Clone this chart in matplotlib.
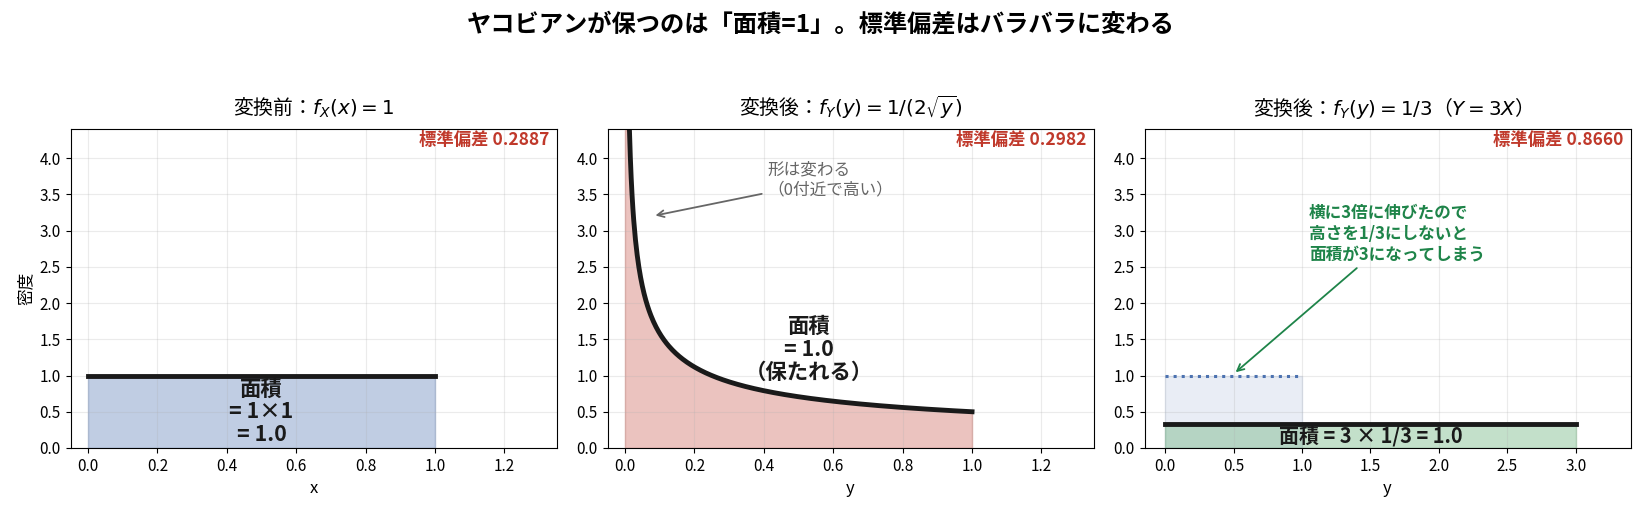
import numpy as np
import matplotlib
matplotlib.use('Agg')
import matplotlib.pyplot as plt

plt.rcParams['font.family'] = ['Noto Sans CJK JP', 'DejaVu Sans']
plt.rcParams['axes.unicode_minus'] = False
plt.rcParams['xtick.labelsize'] = 11
plt.rcParams['ytick.labelsize'] = 11

# data
x_range = [0.0, 1.0]          # X ~ U(0,1)
fx_height = 1.0
y_sqrt_range = [0.013, 1.0]   # Y = X^2 density support drawn
y3_range = [0.0, 3.0]         # Y = 3X
fy3_height = 1 / 3
std_values = [0.2887, 0.2982, 0.8660]
titles = [
    '変換前：$f_X(x) = 1$',
    '変換後：$f_Y(y) = 1/(2\\sqrt{y})$',
    '変換後：$f_Y(y) = 1/3$（$Y = 3X$）',
]
xlabels = ['x', 'y', 'y']

BLUE = '#4c72b0'
RED = '#c0392b'
GREEN = '#55a868'
DARKGREEN = '#1e8449'
INK = '#1a1a1a'

fig, axes = plt.subplots(1, 3, figsize=(16.42, 5.12), dpi=100)
fig.subplots_adjust(left=0.043, right=0.993, bottom=0.125, top=0.748, wspace=0.105)
fig.suptitle('ヤコビアンが保つのは「面積=1」。標準偏差はバラバラに変わる',
             fontsize=17.5, fontweight='bold', y=0.975)

# panel 1
ax = axes[0]
ax.fill_between(x_range, [fx_height, fx_height], color=BLUE, alpha=0.35)
ax.plot(x_range, [fx_height, fx_height], color=INK, lw=3.5)
ax.text(0.5, 0.5, '面積\n= 1×1\n= 1.0', ha='center', va='center',
        fontsize=15.4, fontweight='bold', color=INK, linespacing=1.1)
ax.set_xlim(-0.05, 1.35)
ax.set_ylabel('密度', fontsize=12)

# panel 2
ax = axes[1]
ys = np.linspace(y_sqrt_range[0], y_sqrt_range[1], 400)
fy = 1 / (2 * np.sqrt(ys))
ax.fill_between(np.concatenate([[0.0], ys]), np.concatenate([[fy[0]], fy]),
                color=RED, alpha=0.3)
ax.plot(ys, fy, color=INK, lw=3.5)
ax.text(0.53, 1.36, '面積\n= 1.0\n（保たれる）', ha='center', va='center',
        fontsize=15.4, fontweight='bold', color=INK, linespacing=1.1)
ax.annotate('形は変わる\n（0付近で高い）', xy=(0.08, 3.2), xytext=(0.41, 3.5),
            fontsize=12, color='#666666',
            arrowprops=dict(arrowstyle='->', color='#666666', lw=1.3))
ax.set_xlim(-0.05, 1.35)

# panel 3
ax = axes[2]
ax.fill_between(x_range, [fx_height, fx_height], color=BLUE, alpha=0.12)
ax.plot(x_range, [fx_height, fx_height], color=BLUE, lw=2.2, ls=':')
ax.fill_between(y3_range, [fy3_height, fy3_height], color=GREEN, alpha=0.35)
ax.plot(y3_range, [fy3_height, fy3_height], color=INK, lw=3.5)
ax.text(1.5, 0.17, '面積 = 3 × 1/3 = 1.0', ha='center', va='center',
        fontsize=14.4, fontweight='bold', color=INK)
ax.annotate('横に3倍に伸びたので\n高さを1/3にしないと\n面積が3になってしまう',
            xy=(0.5, 1.02), xytext=(1.05, 2.6),
            fontsize=12, fontweight='bold', color=DARKGREEN,
            arrowprops=dict(arrowstyle='->', color=DARKGREEN, lw=1.3))
ax.set_xlim(-0.15, 3.4)

for ax, t, xl, sd in zip(axes, titles, xlabels, std_values):
    ax.set_ylim(0, 4.4)
    ax.set_title(t, fontsize=14.3, pad=10)
    ax.set_xlabel(xl, fontsize=12)
    ax.grid(True, alpha=0.25)
    ax.text(0.985, 0.995, f'標準偏差 {sd:.4f}', transform=ax.transAxes,
            ha='right', va='top', fontsize=12.5, fontweight='bold', color=RED)

fig.savefig('out.png', dpi=100)
